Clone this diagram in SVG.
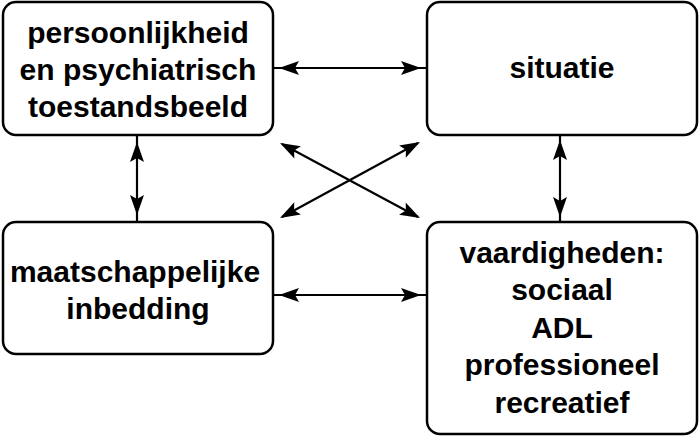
<svg xmlns="http://www.w3.org/2000/svg" xmlns:xlink="http://www.w3.org/1999/xlink" width="700" height="437" viewBox="0 0 700 437">
<style>
.box{fill:#fff;stroke:#000;stroke-width:2.5}
.t{font-family:"Liberation Sans",Arial,sans-serif;font-weight:bold;font-size:30px;fill:#000;text-anchor:middle}
.conn line{stroke:#000;stroke-width:2.2}
.ah{fill:#000}
</style>
<defs>
<path id="ah" class="ah" d="M0,0 L-20,-7 L-16,0 L-20,7 Z"/>
</defs>
<rect width="700" height="437" fill="#fff"/>
<g id="connectors" class="conn">
<line x1="273" y1="68" x2="427" y2="68"/>
<use xlink:href="#ah" href="#ah" transform="translate(421,68)"/>
<use xlink:href="#ah" href="#ah" transform="translate(279,68) rotate(180)"/>
<line x1="273" y1="295" x2="427" y2="295"/>
<use xlink:href="#ah" href="#ah" transform="translate(421,295)"/>
<use xlink:href="#ah" href="#ah" transform="translate(279,295) rotate(180)"/>
<line x1="137" y1="135" x2="137" y2="222"/>
<use xlink:href="#ah" href="#ah" transform="translate(137,142) rotate(-90)"/>
<use xlink:href="#ah" href="#ah" transform="translate(137,215) rotate(90)"/>
<line x1="560" y1="135" x2="560" y2="222"/>
<use xlink:href="#ah" href="#ah" transform="translate(560,140) rotate(-90)"/>
<use xlink:href="#ah" href="#ah" transform="translate(560,217) rotate(90)"/>
<line x1="282" y1="144" x2="418" y2="217"/>
<use xlink:href="#ah" href="#ah" transform="translate(420,218) rotate(28.2)"/>
<use xlink:href="#ah" href="#ah" transform="translate(280,143) rotate(208.2)"/>
<line x1="282" y1="217" x2="418" y2="143"/>
<use xlink:href="#ah" href="#ah" transform="translate(420,142) rotate(-28.5)"/>
<use xlink:href="#ah" href="#ah" transform="translate(280,218) rotate(151.5)"/>
</g>
<g id="persoonlijkheid">
<rect class="box" x="3" y="2" width="270" height="133" rx="13"/>
<text class="t" x="138" y="43">persoonlijkheid</text>
<text class="t" x="138" y="80">en psychiatrisch</text>
<text class="t" x="138" y="117">toestandsbeeld</text>
</g>
<g id="situatie">
<rect class="box" x="427" y="2" width="270" height="133" rx="13"/>
<text class="t" x="562" y="78">situatie</text>
</g>
<g id="maatschappelijke">
<rect class="box" x="3" y="222" width="270" height="132" rx="13"/>
<text class="t" x="135" y="282">maatschappelijke</text>
<text class="t" x="138" y="319">inbedding</text>
</g>
<g id="vaardigheden">
<rect class="box" x="427" y="222" width="270" height="212" rx="13"/>
<text class="t" x="562" y="263">vaardigheden:</text>
<text class="t" x="562" y="300">sociaal</text>
<text class="t" x="562" y="338">ADL</text>
<text class="t" x="562" y="375">professioneel</text>
<text class="t" x="562" y="413">recreatief</text>
</g>
</svg>
